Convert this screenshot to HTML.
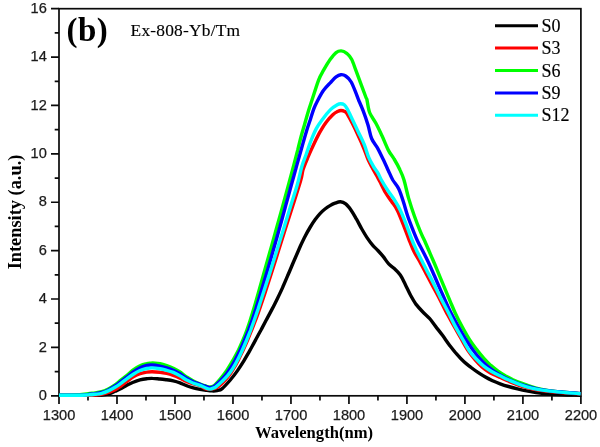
<!DOCTYPE html>
<html><head><meta charset="utf-8"><title>chart</title>
<style>
html,body{margin:0;padding:0;background:#fff;}
body{width:600px;height:447px;position:relative;overflow:hidden;font-family:"Liberation Sans",sans-serif;}
svg text{font-kerning:normal}
</style></head><body>
<svg width="600" height="447" viewBox="0 0 600 447" style="position:absolute;left:0;top:0;filter:blur(0.45px)">
<g stroke="#0a0a0a" stroke-width="1.7" fill="none">
<rect x="59.0" y="8.7" width="521.9" height="387.1"/>
<path d="M59.00,395.8V404.1M87.99,395.8V400.6M116.99,395.8V404.1M145.98,395.8V400.6M174.98,395.8V404.1M203.97,395.8V400.6M232.97,395.8V404.1M261.96,395.8V400.6M290.96,395.8V404.1M319.95,395.8V400.6M348.94,395.8V404.1M377.94,395.8V400.6M406.93,395.8V404.1M435.93,395.8V400.6M464.92,395.8V404.1M493.92,395.8V400.6M522.91,395.8V404.1M551.91,395.8V400.6M580.90,395.8V404.1M59.0,395.80H51.0M59.0,371.61H54.7M59.0,347.41H51.0M59.0,323.22H54.7M59.0,299.02H51.0M59.0,274.83H54.7M59.0,250.64H51.0M59.0,226.44H54.7M59.0,202.25H51.0M59.0,178.06H54.7M59.0,153.86H51.0M59.0,129.67H54.7M59.0,105.47H51.0M59.0,81.28H54.7M59.0,57.09H51.0M59.0,32.89H54.7M59.0,8.70H51.0"/>
</g>
<g fill="none" stroke-width="3.4" stroke-linejoin="round" stroke-linecap="butt">
<path d="M59.0,395.4C64.2,395.4 82.9,395.4 90.0,395.3C97.1,395.2 98.7,395.2 101.7,395.0C104.8,394.8 106.1,394.7 108.3,394.1C110.5,393.5 112.8,392.3 115.0,391.3C117.2,390.3 119.5,389.3 121.7,388.2C123.9,387.1 126.4,385.5 128.3,384.5C130.2,383.5 131.4,383.0 133.3,382.2C135.2,381.4 137.8,380.4 140.0,379.8C142.2,379.2 144.6,378.9 146.7,378.7C148.8,378.5 150.3,378.3 152.5,378.4C154.7,378.4 157.6,378.8 160.0,379.0C162.4,379.2 164.5,379.5 166.7,379.8C168.9,380.1 171.1,380.4 173.3,380.9C175.5,381.4 177.8,382.1 180.0,382.9C182.2,383.8 184.5,384.9 186.7,385.7C188.9,386.6 191.1,387.2 193.3,387.8C195.5,388.4 197.9,388.9 200.0,389.3C202.1,389.7 204.0,390.0 206.0,390.2C208.0,390.5 210.2,390.9 212.0,390.9C213.8,391.0 215.3,391.0 217.0,390.6C218.7,390.2 220.0,390.4 222.2,388.6C224.4,386.8 227.7,383.0 230.3,380.0C232.8,377.0 235.3,373.8 237.5,370.6C239.8,367.3 241.9,364.0 244.0,360.6C246.0,357.2 248.0,353.8 249.9,350.4C251.8,346.9 253.7,343.5 255.5,340.1C257.4,336.7 259.1,333.4 261.0,330.0C262.8,326.6 264.7,323.2 266.5,319.6C268.4,316.1 270.3,312.6 272.2,308.9C274.1,305.3 275.9,301.6 277.7,297.9C279.5,294.2 281.3,290.5 282.9,286.8C284.6,283.1 286.1,279.4 287.6,275.8C289.2,272.3 290.6,268.9 292.0,265.5C293.4,262.1 294.8,258.9 296.2,255.7C297.6,252.4 299.0,249.2 300.4,246.0C301.9,242.8 303.4,239.6 305.0,236.5C306.6,233.4 308.3,230.3 310.0,227.5C311.7,224.7 313.3,222.1 315.0,219.8C316.7,217.5 318.3,215.4 320.0,213.6C321.7,211.8 323.3,210.3 325.0,209.0C326.7,207.7 328.3,206.6 330.0,205.6C331.7,204.6 333.3,203.8 335.0,203.2C336.7,202.6 338.6,201.7 340.4,201.8C342.2,201.9 343.9,202.5 345.7,203.9C347.5,205.3 349.3,207.7 351.1,210.2C352.9,212.7 354.7,216.1 356.5,219.2C358.3,222.3 360.0,225.9 361.8,229.0C363.6,232.1 365.4,235.2 367.2,237.9C369.0,240.6 370.8,243.0 372.6,245.1C374.4,247.2 376.1,248.6 377.9,250.5C379.7,252.4 381.5,254.5 383.3,256.7C385.1,258.9 386.9,262.0 388.7,263.9C390.5,265.8 392.1,266.5 394.0,268.3C395.9,270.1 398.4,272.3 400.3,275.0C402.2,277.7 403.7,281.3 405.4,284.7C407.1,288.1 408.9,292.2 410.7,295.5C412.5,298.8 414.2,301.7 416.1,304.4C418.1,307.0 420.2,309.2 422.4,311.5C424.6,313.9 427.3,316.0 429.5,318.4C431.7,320.8 433.2,323.3 435.4,326.1C437.6,329.0 440.1,332.1 442.5,335.3C444.9,338.6 447.3,342.2 449.7,345.4C452.1,348.5 454.4,351.5 456.8,354.2C459.2,357.0 461.6,359.6 464.0,361.8C466.4,364.0 468.8,365.7 471.1,367.5C473.5,369.3 475.9,371.1 478.3,372.7C480.7,374.3 483.1,375.8 485.4,377.1C487.8,378.5 490.1,379.6 492.6,380.8C495.0,381.9 497.5,382.9 500.1,383.8C502.8,384.8 505.6,385.7 508.5,386.5C511.4,387.3 514.5,388.1 517.5,388.8C520.5,389.5 523.6,390.2 526.7,390.8C529.8,391.4 532.8,392.1 536.2,392.6C539.7,393.1 543.2,393.7 547.5,394.0C551.9,394.4 556.9,394.7 562.4,394.9C567.9,395.1 577.5,395.2 580.5,395.3" stroke="#000000"/>
<path d="M59.0,395.4C64.2,395.4 82.9,395.4 90.0,395.2C97.1,395.0 98.7,394.7 101.7,394.2C104.8,393.8 106.1,393.2 108.3,392.5C110.5,391.7 113.0,390.9 115.0,389.8C117.0,388.8 118.5,387.7 120.5,386.3C122.5,384.9 124.6,383.1 126.7,381.5C128.8,380.0 131.1,378.2 133.3,376.9C135.5,375.6 137.8,374.5 140.0,373.7C142.2,372.9 144.7,372.4 146.7,372.1C148.7,371.7 149.8,371.7 152.0,371.7C154.2,371.7 157.6,372.0 160.0,372.3C162.4,372.5 164.5,372.9 166.7,373.4C168.9,373.9 171.1,374.6 173.3,375.4C175.5,376.1 177.8,377.1 180.0,378.1C182.2,379.1 184.5,380.6 186.7,381.5C188.9,382.5 191.1,383.2 193.3,383.9C195.5,384.5 198.1,384.8 200.0,385.6C201.9,386.4 203.2,388.0 205.0,388.6C206.8,389.1 208.7,389.1 210.5,389.0C212.3,388.9 214.0,389.0 216.0,388.0C218.0,387.1 220.2,385.1 222.2,383.3C224.2,381.4 226.2,379.4 228.0,377.0C229.9,374.7 231.6,372.0 233.3,369.1C235.1,366.3 236.8,363.1 238.4,359.9C240.0,356.7 241.6,353.3 243.2,350.0C244.7,346.7 246.2,343.3 247.6,340.0C249.0,336.7 250.4,333.3 251.7,330.0C253.1,326.7 254.3,323.5 255.6,320.0C256.9,316.5 258.1,313.3 259.5,309.1C261.0,304.8 262.6,300.2 264.5,294.5C266.3,288.8 268.6,281.9 270.8,274.9C273.1,267.8 275.6,260.0 278.0,252.3C280.4,244.7 282.8,236.9 285.3,228.9C287.8,221.0 290.5,213.0 293.1,204.8C295.6,196.7 299.2,185.8 300.8,180.0C302.5,174.2 301.9,173.6 303.0,169.8C304.2,166.0 306.3,161.2 308.0,157.2C309.7,153.2 311.3,149.6 313.2,145.6C315.0,141.6 317.2,137.0 319.3,133.1C321.5,129.2 323.7,125.5 326.0,122.4C328.2,119.4 330.9,116.6 332.8,114.8C334.7,113.0 336.1,112.3 337.5,111.6C338.9,110.9 339.8,110.5 341.0,110.5C342.2,110.5 343.7,110.9 344.7,111.4C345.7,111.9 345.7,111.6 347.0,113.6C348.2,115.6 350.4,119.6 352.3,123.3C354.2,127.0 356.4,131.6 358.3,135.8C360.3,140.0 362.2,144.3 363.8,148.3C365.5,152.3 366.7,156.5 368.2,159.9C369.7,163.3 371.5,166.2 372.9,168.9C374.4,171.6 375.7,173.8 376.9,176.0C378.0,178.2 378.6,179.1 380.0,181.8C381.4,184.6 383.5,189.2 385.4,192.5C387.3,195.8 389.6,198.5 391.6,201.5C393.6,204.5 395.5,206.5 397.4,210.4C399.4,214.3 401.4,219.9 403.3,224.7C405.2,229.5 407.0,234.5 408.8,239.0C410.6,243.5 412.2,247.9 414.0,251.6C415.8,255.3 417.7,257.8 419.7,261.5C421.7,265.2 424.1,269.8 426.3,274.0C428.5,278.2 430.7,282.3 432.9,286.5C435.2,290.7 437.5,294.8 439.6,299.0C441.8,303.2 443.6,307.1 445.9,311.6C448.3,316.1 451.4,321.4 453.9,325.9C456.4,330.4 458.6,334.3 461.0,338.5C463.3,342.7 465.8,347.4 468.2,350.9C470.6,354.5 472.9,357.2 475.2,359.9C477.5,362.5 479.8,365.0 482.0,367.0C484.2,368.9 486.2,370.3 488.2,371.6C490.3,373.0 492.1,373.8 494.2,374.8C496.3,375.8 498.4,376.7 500.9,377.8C503.3,378.9 506.1,380.1 508.9,381.3C511.7,382.4 514.7,383.7 517.7,384.8C520.7,385.9 523.7,386.8 526.8,387.6C529.9,388.5 532.9,389.1 536.5,389.7C540.1,390.3 543.9,390.8 548.4,391.3C552.9,391.8 558.1,392.2 563.5,392.7C568.8,393.1 577.7,393.6 580.5,393.8" stroke="#ff0000"/>
<path d="M59.0,395.2C61.7,395.2 70.1,395.3 75.0,395.0C79.9,394.7 85.0,394.0 88.3,393.6C91.6,393.2 92.8,393.2 95.0,392.9C97.2,392.6 99.5,392.3 101.7,391.6C103.9,390.9 106.1,390.0 108.3,388.9C110.5,387.8 113.0,386.3 115.0,384.9C117.0,383.5 118.5,382.0 120.5,380.4C122.5,378.8 124.6,377.3 126.7,375.5C128.8,373.8 131.1,371.5 133.3,369.8C135.5,368.2 137.8,366.7 140.0,365.7C142.2,364.6 144.9,364.0 146.7,363.6C148.5,363.1 149.3,363.2 150.7,363.1C152.1,363.0 153.4,363.0 155.0,363.1C156.6,363.2 158.1,363.3 160.0,363.7C161.9,364.2 164.5,365.0 166.7,365.7C168.9,366.5 171.1,367.3 173.3,368.3C175.5,369.4 177.8,370.6 180.0,372.0C182.2,373.5 184.5,375.5 186.7,377.0C188.9,378.4 191.1,379.7 193.3,380.9C195.5,382.1 198.1,383.3 200.0,384.1C201.9,384.9 203.4,385.2 205.0,385.7C206.6,386.2 208.0,387.0 209.5,387.0C211.0,387.0 212.2,387.1 214.1,385.7C215.9,384.3 218.4,381.2 220.6,378.5C222.8,375.9 225.0,372.9 227.1,369.9C229.2,366.8 231.2,363.3 233.1,360.0C235.0,356.7 236.8,353.3 238.5,350.0C240.1,346.7 241.6,343.3 243.0,340.0C244.4,336.7 245.7,333.3 246.9,330.0C248.1,326.7 249.2,323.5 250.3,320.0C251.4,316.5 252.4,313.3 253.7,309.1C255.0,304.8 256.3,300.2 257.9,294.5C259.5,288.8 261.4,281.9 263.4,274.9C265.4,267.8 267.6,260.0 269.8,252.3C271.9,244.7 274.2,236.8 276.3,228.9C278.5,221.1 280.8,213.0 282.9,205.4C285.0,197.8 287.0,190.3 288.8,183.6C290.6,177.0 292.2,171.0 293.7,165.5C295.2,159.9 296.4,155.1 297.7,150.2C298.9,145.2 300.1,140.3 301.3,135.8C302.5,131.3 303.7,127.5 304.9,123.3C306.1,119.1 307.3,114.6 308.5,110.7C309.7,106.8 310.3,105.1 312.0,100.0C313.7,94.9 316.6,85.3 318.5,80.3C320.4,75.3 321.6,73.7 323.6,70.2C325.6,66.7 328.2,62.2 330.3,59.3C332.4,56.4 334.3,54.0 336.1,52.6C337.9,51.2 339.4,50.8 341.2,50.9C343.0,51.0 344.9,51.9 346.7,53.3C348.4,54.7 350.1,56.5 351.6,59.3C353.1,62.1 354.3,66.2 355.8,70.2C357.3,74.2 359.1,79.1 360.8,83.6C362.5,88.1 364.8,94.3 365.8,97.0C366.8,99.7 366.4,97.4 367.0,100.0C367.6,102.6 368.1,108.6 369.6,112.5C371.1,116.4 373.9,119.4 375.9,123.3C378.0,127.2 379.9,131.3 382.0,135.8C384.1,140.3 386.3,146.2 388.3,150.1C390.3,154.0 392.2,155.7 394.1,159.0C396.1,162.3 398.3,166.3 399.9,169.8C401.6,173.3 402.6,175.3 404.0,180.0C405.4,184.7 406.8,191.9 408.5,197.9C410.3,203.9 412.3,210.1 414.3,215.8C416.3,221.5 418.8,227.8 420.5,231.9C422.2,236.0 422.8,236.8 424.5,240.5C426.1,244.2 428.5,249.6 430.5,254.3C432.5,259.0 434.5,263.5 436.6,268.6C438.7,273.7 441.0,279.4 443.2,284.7C445.4,290.0 447.8,295.7 449.8,300.4C451.8,305.1 453.1,308.5 455.2,312.9C457.2,317.3 459.8,322.4 462.2,326.8C464.6,331.2 467.0,335.6 469.4,339.4C471.8,343.2 474.2,346.2 476.5,349.3C478.9,352.5 481.3,355.5 483.7,358.1C486.1,360.8 488.4,363.2 490.8,365.4C493.2,367.5 495.6,369.4 498.0,371.2C500.4,372.9 502.7,374.3 505.2,375.8C507.7,377.2 510.3,378.4 513.0,379.7C515.7,380.9 518.6,382.1 521.4,383.2C524.2,384.3 527.0,385.3 529.8,386.2C532.6,387.1 535.1,387.9 538.3,388.6C541.6,389.3 544.9,390.0 549.1,390.6C553.3,391.2 558.4,391.7 563.6,392.2C568.9,392.7 577.7,393.4 580.5,393.6" stroke="#00ff00"/>
<path d="M59.0,395.3C62.8,395.3 77.1,395.2 82.0,395.1C86.9,395.0 86.1,394.6 88.3,394.4C90.5,394.1 92.8,393.9 95.0,393.6C97.2,393.3 99.5,393.1 101.7,392.5C103.9,391.9 106.1,391.0 108.3,389.9C110.5,388.8 113.0,387.3 115.0,386.0C117.0,384.7 118.5,383.4 120.5,381.9C122.5,380.4 124.6,378.8 126.7,377.1C128.8,375.5 131.1,373.4 133.3,371.8C135.5,370.2 137.8,368.8 140.0,367.7C142.2,366.7 144.8,366.0 146.7,365.5C148.6,365.0 149.1,364.9 151.3,365.0C153.5,365.1 157.4,365.6 160.0,366.1C162.6,366.6 164.5,367.2 166.7,367.9C168.9,368.6 171.1,369.3 173.3,370.2C175.5,371.2 177.8,372.5 180.0,373.8C182.2,375.1 184.5,377.0 186.7,378.3C188.9,379.6 191.1,380.7 193.3,381.7C195.5,382.7 198.1,383.6 200.0,384.4C201.9,385.2 203.4,385.7 205.0,386.2C206.6,386.8 208.0,387.6 209.5,387.6C211.0,387.7 212.3,387.5 214.0,386.5C215.7,385.5 217.9,383.2 219.7,381.4C221.6,379.6 223.3,377.8 225.1,375.7C226.8,373.5 228.5,371.2 230.2,368.5C231.9,365.8 233.6,362.8 235.3,359.8C236.9,356.7 238.6,353.3 240.2,350.0C241.8,346.7 243.2,343.3 244.6,340.0C246.0,336.7 247.3,333.3 248.6,330.0C249.8,326.7 251.0,323.5 252.2,320.0C253.4,316.5 254.4,313.3 255.8,309.1C257.1,304.8 258.5,300.2 260.2,294.5C262.0,288.8 264.0,281.9 266.1,274.9C268.2,267.8 270.5,260.0 272.7,252.3C274.9,244.7 277.1,236.7 279.3,228.9C281.5,221.2 283.7,213.0 285.7,205.6C287.8,198.3 289.7,191.0 291.4,184.8C293.1,178.7 294.5,173.5 295.9,168.6C297.2,163.7 298.4,159.7 299.6,155.4C300.8,151.1 301.9,147.1 303.1,142.9C304.3,138.7 305.5,134.3 306.7,130.4C307.9,126.5 309.1,123.3 310.3,119.7C311.5,116.1 312.6,112.1 313.8,108.9C315.0,105.7 316.1,103.6 317.7,100.5C319.3,97.4 321.5,93.2 323.6,90.3C325.7,87.3 328.2,85.0 330.3,82.8C332.4,80.6 334.4,78.2 336.1,76.9C337.9,75.6 339.2,74.9 340.8,74.7C342.4,74.5 344.0,74.8 345.7,76.0C347.5,77.2 349.5,79.0 351.2,82.0C352.9,85.0 355.0,90.7 356.2,93.7C357.4,96.7 357.5,97.2 358.6,100.0C359.8,102.8 361.5,106.5 363.1,110.7C364.7,114.9 366.6,120.4 368.0,125.0C369.4,129.6 370.0,134.6 371.6,138.5C373.2,142.4 375.8,144.9 377.7,148.3C379.6,151.7 381.2,155.3 383.0,159.0C384.8,162.7 386.8,167.2 388.4,170.7C390.0,174.2 391.1,177.0 392.8,180.0C394.6,183.0 397.0,185.3 398.8,188.9C400.5,192.5 401.9,197.0 403.3,201.5C404.8,206.0 406.0,211.0 407.6,215.8C409.2,220.6 411.3,225.8 413.0,230.1C414.7,234.4 416.2,238.1 417.8,241.5C419.4,244.9 420.8,247.2 422.5,250.5C424.2,253.8 426.0,257.3 428.0,261.5C430.0,265.7 432.3,271.0 434.4,275.8C436.5,280.6 438.5,285.3 440.6,290.1C442.7,294.9 445.3,300.7 447.0,304.4C448.7,308.1 448.9,308.8 450.8,312.5C452.7,316.2 456.0,322.3 458.5,326.8C461.0,331.3 463.4,335.6 465.8,339.4C468.2,343.2 470.6,346.6 472.9,349.9C475.3,353.2 477.7,356.3 480.1,359.0C482.5,361.7 484.8,364.0 487.2,366.1C489.7,368.2 492.0,369.9 494.6,371.6C497.2,373.3 499.8,374.8 502.8,376.4C505.7,378.0 508.9,379.6 512.3,381.0C515.7,382.5 519.4,384.0 523.1,385.2C526.9,386.4 530.8,387.4 534.9,388.3C539.1,389.2 543.3,389.9 548.1,390.6C552.9,391.2 558.1,391.7 563.5,392.3C568.9,392.8 577.7,393.4 580.5,393.6" stroke="#0000ff"/>
<path d="M59.0,395.3C62.8,395.3 77.1,395.3 82.0,395.2C86.9,395.1 86.1,395.0 88.3,394.9C90.5,394.8 92.8,394.6 95.0,394.3C97.2,394.0 99.5,393.9 101.7,393.3C103.9,392.7 106.1,391.9 108.3,390.9C110.5,389.9 113.0,388.5 115.0,387.3C117.0,386.1 118.5,385.0 120.5,383.6C122.5,382.2 124.6,380.4 126.7,378.9C128.8,377.3 131.1,375.6 133.3,374.2C135.5,372.8 137.8,371.5 140.0,370.5C142.2,369.6 144.7,368.9 146.7,368.5C148.7,368.1 149.8,367.9 152.0,367.9C154.2,367.9 157.6,368.3 160.0,368.7C162.4,369.1 164.5,369.7 166.7,370.3C168.9,370.9 171.1,371.5 173.3,372.4C175.5,373.4 177.8,374.6 180.0,375.9C182.2,377.2 184.5,378.8 186.7,380.1C188.9,381.3 191.1,382.3 193.3,383.2C195.5,384.0 197.9,384.5 200.0,385.4C202.1,386.2 204.3,387.5 206.0,388.1C207.7,388.8 208.7,389.2 210.0,389.1C211.3,389.1 212.9,388.4 214.0,387.9C215.1,387.4 215.5,387.2 216.8,386.1C218.1,385.1 220.2,383.2 222.0,381.4C223.8,379.7 225.6,378.0 227.4,375.9C229.2,373.7 231.0,371.3 232.7,368.6C234.4,366.0 236.1,362.9 237.7,359.8C239.3,356.7 240.9,353.3 242.4,350.0C243.9,346.7 245.3,343.3 246.7,340.0C248.1,336.7 249.4,333.3 250.7,330.0C251.9,326.7 253.1,323.5 254.3,320.0C255.6,316.5 256.6,313.3 258.1,309.1C259.5,304.8 261.0,300.2 262.8,294.5C264.7,288.8 266.9,281.9 269.2,274.9C271.4,267.8 273.9,260.0 276.3,252.3C278.7,244.7 281.2,236.7 283.6,228.9C286.0,221.1 288.5,213.0 290.8,205.5C293.1,198.1 295.6,190.8 297.4,184.2C299.3,177.6 300.4,171.3 301.9,166.2C303.4,161.1 304.9,157.9 306.4,153.7C307.9,149.5 309.2,145.3 310.8,141.1C312.5,136.9 314.3,132.3 316.3,128.6C318.3,124.9 320.4,122.2 322.8,119.0C325.1,115.8 328.1,112.0 330.5,109.6C332.9,107.2 335.6,105.7 337.3,104.7C339.0,103.7 339.6,103.7 340.7,103.7C341.8,103.7 343.1,103.9 344.2,104.8C345.3,105.7 345.8,106.4 347.2,108.9C348.6,111.4 350.6,115.8 352.5,119.7C354.4,123.6 356.4,128.0 358.4,132.2C360.4,136.4 362.6,140.5 364.3,144.7C366.0,148.9 367.1,153.6 368.6,157.2C370.1,160.8 371.7,163.5 373.3,166.2C374.8,168.9 376.7,171.0 378.1,173.3C379.4,175.6 379.7,177.1 381.4,180.0C383.0,182.9 385.8,187.4 388.0,190.7C390.2,194.0 392.2,196.4 394.3,199.7C396.4,203.0 398.4,206.2 400.4,210.4C402.4,214.6 404.5,219.9 406.3,224.7C408.2,229.5 409.9,234.8 411.6,239.0C413.2,243.2 414.8,246.5 416.4,249.9C418.1,253.3 419.4,256.0 421.3,259.7C423.2,263.4 425.6,268.0 427.7,272.2C429.9,276.4 432.1,280.5 434.2,284.7C436.3,288.9 438.0,292.7 440.3,297.2C442.6,301.7 445.4,306.8 447.8,311.6C450.3,316.4 452.6,321.4 455.0,325.9C457.4,330.4 459.8,334.3 462.2,338.5C464.6,342.6 467.0,347.5 469.4,350.9C471.8,354.4 474.1,356.8 476.5,359.3C478.9,361.8 481.2,364.1 483.7,366.1C486.1,368.0 488.5,369.6 491.2,371.2C493.8,372.7 496.5,374.1 499.4,375.5C502.3,376.9 505.3,378.4 508.3,379.8C511.3,381.1 514.4,382.5 517.5,383.7C520.6,384.9 523.5,385.9 526.7,386.8C529.9,387.7 532.8,388.4 536.4,389.1C540.1,389.8 543.9,390.4 548.4,390.9C552.9,391.5 558.1,392.0 563.5,392.4C568.8,392.9 577.7,393.5 580.5,393.7" stroke="#00ffff"/>
</g>
<g stroke-width="3" stroke-linecap="butt">
<line x1="495" x2="538" y1="25.7" y2="25.7" stroke="#000000"/>
<line x1="495" x2="538" y1="48.1" y2="48.1" stroke="#ff0000"/>
<line x1="495" x2="538" y1="70.5" y2="70.5" stroke="#00ff00"/>
<line x1="495" x2="538" y1="92.9" y2="92.9" stroke="#0000ff"/>
<line x1="495" x2="538" y1="115.3" y2="115.3" stroke="#00ffff"/>
</g>
<g font-family="Liberation Sans, sans-serif" font-size="14.6" fill="#1a1a1a" stroke="#1a1a1a" stroke-width="0.25">
<text x="59.1" y="420.1" text-anchor="middle">1300</text>
<text x="117.1" y="420.1" text-anchor="middle">1400</text>
<text x="175.1" y="420.1" text-anchor="middle">1500</text>
<text x="233.1" y="420.1" text-anchor="middle">1600</text>
<text x="291.1" y="420.1" text-anchor="middle">1700</text>
<text x="349.0" y="420.1" text-anchor="middle">1800</text>
<text x="407.0" y="420.1" text-anchor="middle">1900</text>
<text x="465.0" y="420.1" text-anchor="middle">2000</text>
<text x="523.0" y="420.1" text-anchor="middle">2100</text>
<text x="581.0" y="420.1" text-anchor="middle">2200</text>
<text x="46.8" y="400.0" text-anchor="end">0</text>
<text x="46.8" y="351.6" text-anchor="end">2</text>
<text x="46.8" y="303.2" text-anchor="end">4</text>
<text x="46.8" y="254.8" text-anchor="end">6</text>
<text x="46.8" y="206.4" text-anchor="end">8</text>
<text x="46.8" y="158.1" text-anchor="end">10</text>
<text x="46.8" y="109.7" text-anchor="end">12</text>
<text x="46.8" y="61.3" text-anchor="end">14</text>
<text x="46.8" y="12.9" text-anchor="end">16</text>
</g>
<g font-family="Liberation Serif, serif" font-size="18" fill="#000">
<text x="541.5" y="31.8" stroke="#000" stroke-width="0.15">S0</text>
<text x="541.5" y="54.2" stroke="#000" stroke-width="0.15">S3</text>
<text x="541.5" y="76.6" stroke="#000" stroke-width="0.15">S6</text>
<text x="541.5" y="99.0" stroke="#000" stroke-width="0.15">S9</text>
<text x="541.5" y="121.4" stroke="#000" stroke-width="0.15">S12</text>
<text x="130.6" y="35.5" font-size="17.4" letter-spacing="0.2" stroke="#000" stroke-width="0.15">Ex-808-Yb/Tm</text>
<text x="66.6" y="40.9" font-size="33" font-weight="bold" letter-spacing="0.4">(b)</text>
<text x="314" y="438.1" font-size="16.6" font-weight="bold" text-anchor="middle">Wavelength(nm)</text>
<text transform="translate(21,212) rotate(-90)" font-size="18.35" font-weight="bold" text-anchor="middle">Intensity (a.u.)</text>
</g>
</svg>
</body></html>
